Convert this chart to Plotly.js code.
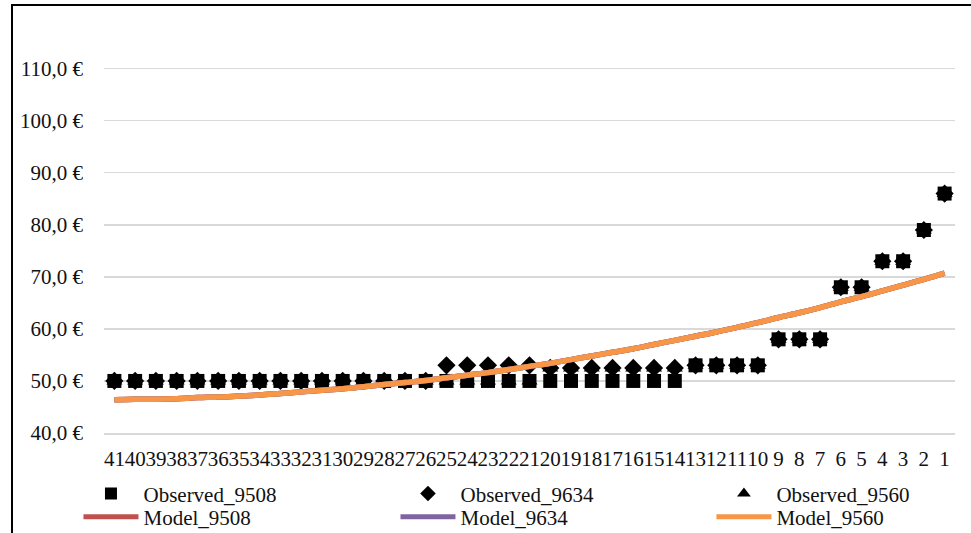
<!DOCTYPE html>
<html>
<head>
<meta charset="utf-8">
<script src="https://cdn.plot.ly/plotly-3.0.1.min.js"></script>
<style>
  html, body { margin: 0; padding: 0; background: #fff; }
  #wrap { position: relative; width: 971px; height: 533px; overflow: hidden; }
  #chart { width: 971px; height: 533px; }
  #frame { position: absolute; left: 11px; top: 4px; width: 2000px; height: 2000px;
           border-left: 2px solid #000; border-top: 2px solid #000; pointer-events: none; }
</style>
</head>
<body>
<div id="wrap">
  <div id="chart"></div>
  <div id="frame"></div>
</div>
<script>
// Rank categories, highest first
const categories = ['41','40','39','38','37','36','35','34','33','32','31','30','29','28','27','26',
  '25','24','23','22','21','20','19','18','17','16','15','14','13','12','11','10',
  '9','8','7','6','5','4','3','2','1'];

// Observed prices (€)
const observed9508 = [50,50,50,50,50,50,50,50,50,50,50,50,50,50,50,50,
  50,50,50,50,50,50,50,50,50,50,50,50,53,53,53,53,58,58,58,68,68,73,73,79,86];
const observed9634 = [50,50,50,50,50,50,50,50,50,50,50,50,50,50,50,50,
  53,53,53,53,53,52.5,52.5,52.5,52.5,52.5,52.5,52.5,53,53,53,53,58,58,58,68,68,73,73,79,86];
const observed9560 = [50,50,50,50,50,50,50,50,50,50,50,50,50,50,50,50,
  50,50,50,50,50,52.5,52.5,52.5,52.5,52.5,52.5,52.5,53,53,53,53,58,58,58,68,68,73,73,79,86];

// Fitted model prices (€)
const model9508 = [46.4,46.5,46.5,46.6,46.8,46.9,47.1,47.3,47.6,47.9,48.2,48.5,48.9,49.3,49.7,50.1,
  50.6,51.1,51.6,52.2,52.8,53.4,54.1,54.8,55.5,56.2,57.0,57.8,58.6,59.4,60.3,61.2,
  62.2,63.1,64.1,65.2,66.2,67.3,68.4,69.5,70.7];
const model9634 = [46.4,46.5,46.5,46.6,46.8,46.9,47.1,47.3,47.6,47.9,48.2,48.5,48.9,49.3,49.7,50.1,
  50.6,51.1,51.6,52.2,52.8,53.4,54.1,54.8,55.5,56.2,57.0,57.8,58.6,59.4,60.3,61.2,
  62.2,63.1,64.1,65.2,66.2,67.3,68.4,69.5,70.7];
const model9560 = [46.4,46.5,46.5,46.6,46.8,46.9,47.1,47.3,47.6,47.9,48.2,48.5,48.9,49.3,49.7,50.1,
  50.6,51.1,51.6,52.2,52.8,53.4,54.1,54.8,55.5,56.2,57.0,57.8,58.6,59.4,60.3,61.2,
  62.2,63.1,64.1,65.2,66.2,67.3,68.4,69.5,70.7];

const FONT = '"Liberation Serif", "Times New Roman", Times, serif';
const TXT = '#111';
const SIZE = 21;

function observed(name, y, symbol, legendId) {
  return { type: 'scatter', mode: 'markers', name: name, x: categories, y: y, legend: legendId,
    marker: { symbol: symbol, size: 14, color: '#000', line: { width: 0 } } };
}
function model(name, y, color, legendId) {
  return { type: 'scatter', mode: 'lines', name: name, x: categories, y: y, legend: legendId,
    line: { color: color, width: 5.5, shape: 'spline' } };
}

const traces = [
  observed('Observed_9508', observed9508, 'square', 'legend'),
  observed('Observed_9634', observed9634, 'diamond', 'legend2'),
  observed('Observed_9560', observed9560, 'triangle-up', 'legend3'),
  model('Model_9508', model9508, '#C0504D', 'legend4'),
  model('Model_9634', model9634, '#8064A2', 'legend5'),
  model('Model_9560', model9560, '#F79646', 'legend6')
];

// Legend grid: three columns, two rows below the plot
function legendBox(x, y) {
  return { orientation: 'v', x: x, xanchor: 'left', y: y, yanchor: 'middle',
    itemwidth: 55, itemsizing: 'constant', borderwidth: 0, bgcolor: 'rgba(0,0,0,0)',
    font: { family: FONT, size: SIZE, color: TXT } };
}
const colX = [-0.030, 0.3425, 0.7138];
const rowY = [-0.150, -0.207];

const layout = {
  width: 971, height: 533,
  margin: { l: 104, r: 16, t: 27, b: 100, autoexpand: false },
  paper_bgcolor: '#fff', plot_bgcolor: '#fff',
  separators: ', ',
  font: { family: FONT, size: SIZE, color: TXT },
  showlegend: true,
  xaxis: {
    type: 'category', range: [-0.5, 40.5], fixedrange: true,
    tickmode: 'linear', dtick: 1, tickangle: 0,
    showgrid: false, zeroline: false, showline: true, linecolor: '#d9d9d9', linewidth: 1.5,
    ticks: '', ticklabelstandoff: 6,
    tickfont: { family: FONT, size: SIZE, color: TXT }
  },
  yaxis: {
    range: [40, 118], dtick: 10, tick0: 40, fixedrange: true,
    tickformat: '.1f', ticksuffix: ' €',
    showgrid: true, gridcolor: '#d9d9d9', gridwidth: 1.5, zeroline: false,
    ticks: '', ticklabelstandoff: 20,
    tickfont: { family: FONT, size: SIZE, color: TXT }
  },
  legend: legendBox(colX[0], rowY[0]),
  legend2: legendBox(colX[1], rowY[0]),
  legend3: legendBox(colX[2], rowY[0]),
  legend4: legendBox(colX[0], rowY[1]),
  legend5: legendBox(colX[1], rowY[1]),
  legend6: legendBox(colX[2], rowY[1])
};

Plotly.newPlot('chart', traces, layout, { staticPlot: true, displayModeBar: false });
</script>
</body>
</html>
